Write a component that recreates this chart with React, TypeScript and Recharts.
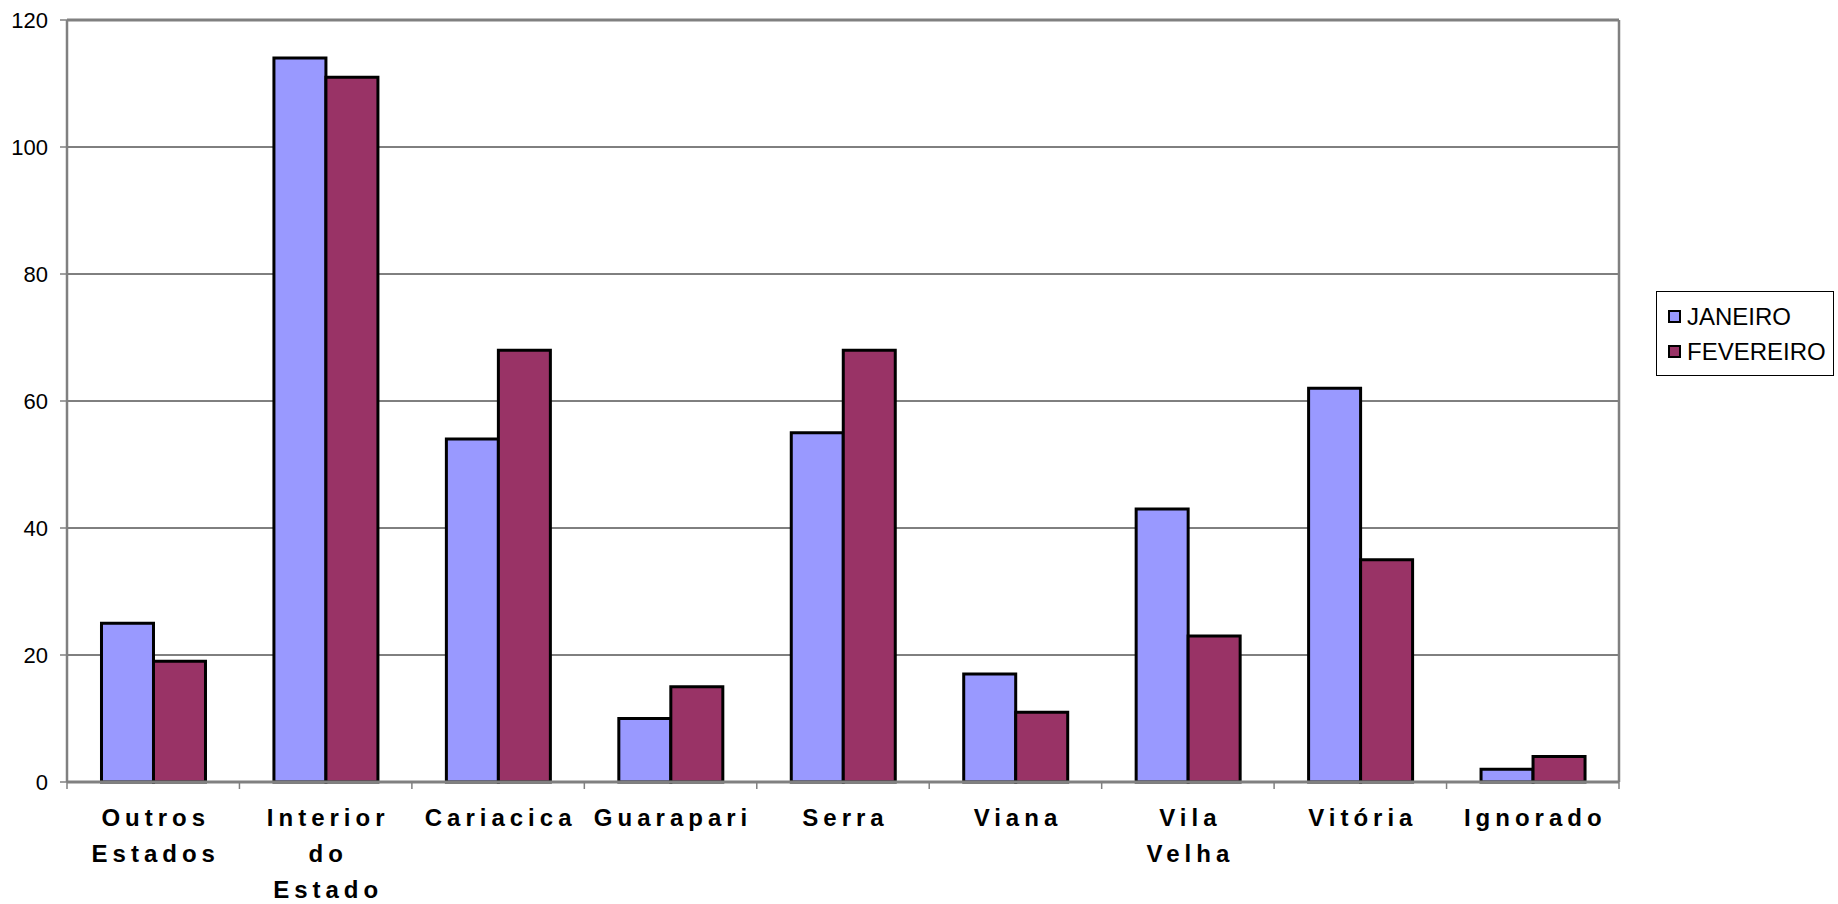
import React from 'react';
import {
  BarChart,
  Bar,
  XAxis,
  YAxis,
  CartesianGrid,
  Legend,
  ReferenceLine,
} from 'recharts';

const categories = [
  'Outros Estados',
  'Interior do Estado',
  'Cariacica',
  'Guarapari',
  'Serra',
  'Viana',
  'Vila Velha',
  'Vitória',
  'Ignorado',
];
const janeiro = [25, 114, 54, 10, 55, 17, 43, 62, 2];
const fevereiro = [19, 111, 68, 15, 68, 11, 23, 35, 4];
const seriesOrder = ['JANEIRO', 'FEVEREIRO'];
const yTicks = [0, 20, 40, 60, 80, 100, 120];

const data = categories.map((name, i) => ({
  name,
  JANEIRO: janeiro[i],
  FEVEREIRO: fevereiro[i],
}));

const W = 1838;
const H = 904;
const LEFT = 67;
const RIGHT = 219;
const PLOT_W = W - LEFT - RIGHT;
const BAND = PLOT_W / categories.length;
const BORDER = '#808080';

function CategoryTick(props: any) {
  const { x, y, payload, index } = props;
  const words = String(payload.value).split(' ');
  const last = index === categories.length - 1;
  return (
    <g>
      <line x1={x - BAND / 2} x2={x - BAND / 2} y1={y} y2={y + 7} stroke={BORDER} strokeWidth={1.5} />
      {last && (
        <line x1={x + BAND / 2} x2={x + BAND / 2} y1={y} y2={y + 7} stroke={BORDER} strokeWidth={1.5} />
      )}
      <text
        x={x}
        y={y}
        textAnchor="middle"
        fontFamily="'Liberation Sans', Arial, sans-serif"
        fontWeight="bold"
        fontSize={24}
        letterSpacing={5}
        fill="#000"
      >
        {words.map((w, i) => (
          <tspan key={i} x={x + 2.5} y={y + 44 + i * 36}>
            {w}
          </tspan>
        ))}
      </text>
    </g>
  );
}

function LegendBox(props: any) {
  const items = [...(props.payload || [])].sort(
    (a: any, b: any) => seriesOrder.indexOf(a.value) - seriesOrder.indexOf(b.value)
  );
  return (
    <div
      style={{
        width: 178,
        height: 85,
        border: '1px solid #000',
        background: '#fff',
        boxSizing: 'border-box',
        paddingTop: 7,
        fontFamily: "'Liberation Sans', Arial, sans-serif",
        fontSize: 24,
      }}
    >
      {items.map((it: any) => (
        <div
          key={it.value}
          style={{ display: 'flex', alignItems: 'center', height: 35, paddingLeft: 11 }}
        >
          <span
            style={{
              display: 'inline-block',
              width: 9,
              height: 9,
              border: '2px solid #000',
              background: it.color,
              marginRight: 6,
            }}
          />
          <span style={{ color: '#000' }}>{it.value}</span>
        </div>
      ))}
    </div>
  );
}

export default function App() {
  return (
    <div style={{ position: 'absolute', left: 0, top: 0, width: W, height: H, background: '#fff' }}>
      <BarChart
        width={W}
        height={H}
        data={data}
        margin={{ top: 20, right: RIGHT - 1, left: 0, bottom: 0 }}
        barCategoryGap="20%"
        barGap={0}
      >
        <CartesianGrid vertical={false} stroke="#000" strokeWidth={1} />
        <XAxis
          dataKey="name"
          height={122}
          interval={0}
          tickLine={false}
          tickSize={0}
          tickMargin={0}
          axisLine={{ stroke: BORDER, strokeWidth: 3 }}
          tick={<CategoryTick />}
        />
        <YAxis
          width={LEFT}
          domain={[0, 120]}
          ticks={yTicks}
          interval={0}
          tickSize={7}
          tickMargin={12}
          tickLine={{ stroke: BORDER, strokeWidth: 1.5 }}
          axisLine={{ stroke: BORDER, strokeWidth: 2.5 }}
          tick={{ fill: '#000', fontSize: 22, fontFamily: "'Liberation Sans', Arial, sans-serif" }}
        />
        <YAxis
          yAxisId="right"
          orientation="right"
          width={1}
          domain={[0, 120]}
          tick={false}
          tickLine={false}
          axisLine={{ stroke: BORDER, strokeWidth: 2.5 }}
        />
        <ReferenceLine y={120} stroke={BORDER} strokeWidth={3} />
        <Legend
          layout="vertical"
          align="center"
          verticalAlign="middle"
          content={<LegendBox />}
          wrapperStyle={{ left: 1656, top: 291, width: 178, height: 85 }}
        />
        <Bar
          dataKey="JANEIRO"
          fill="#9999FF"
          stroke="#000"
          strokeWidth={3}
          isAnimationActive={false}
        />
        <Bar
          dataKey="FEVEREIRO"
          fill="#993366"
          stroke="#000"
          strokeWidth={3}
          isAnimationActive={false}
        />
      </BarChart>
    </div>
  );
}
